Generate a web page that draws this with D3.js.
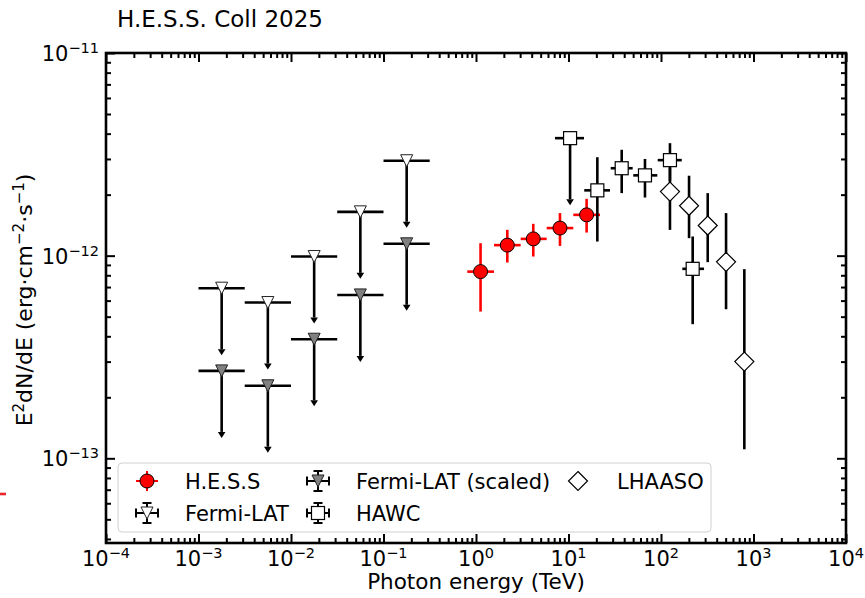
<!DOCTYPE html>
<html>
<head>
<meta charset="utf-8">
<script src="https://cdn.jsdelivr.net/npm/d3@7"></script>
<style>
  body { margin: 0; background: #fff; }
  svg { display: block; }
  text { font-family: "DejaVu Sans", sans-serif; fill: #000; }
</style>
</head>
<body>
<svg id="chart" width="865" height="598"></svg>
<script>
// ---- Data: energies in TeV, fluxes E^2 dN/dE in erg cm^-2 s^-1 ----

// H.E.S.S. spectral points
const hessE   = [1.12, 2.18, 4.16, 8.09, 15.7];
const hessElo = [0.805, 1.565, 3.04, 5.81, 11.27];
const hessEhi = [1.565, 3.04, 5.81, 11.27, 21.9];
const hessF   = [8.34e-13, 1.127e-12, 1.21e-12, 1.368e-12, 1.59e-12];
const hessFlo = [5.30e-13, 9.25e-13, 9.9e-13, 1.117e-12, 1.30e-12];
const hessFhi = [1.152e-12, 1.341e-12, 1.436e-12, 1.622e-12, 1.908e-12];

// Fermi-LAT upper limits (original and scaled)
const fermiE   = [1.78e-3, 5.62e-3, 1.78e-2, 5.62e-2, 0.178];
const fermiElo = [1.0e-3, 3.16e-3, 1.0e-2, 3.16e-2, 0.1];
const fermiEhi = [3.16e-3, 1.0e-2, 3.16e-2, 0.1, 0.316];
const fermiUL       = [6.91e-13, 5.87e-13, 9.9e-13, 1.645e-12, 2.94e-12];
const fermiScaledUL = [2.70e-13, 2.28e-13, 3.87e-13, 6.40e-13, 1.144e-12];

// HAWC points (first bin is an upper limit)
const hawcE   = [10.4, 20.5, 37.6, 67.1, 125, 220];
const hawcElo = [7.14, 14.8, 28.6, 50.1, 92.1, 170];
const hawcEhi = [14.7, 28.1, 49.4, 91.2, 167.6, 292];
const hawcF   = [3.80e-12, 2.10e-12, 2.70e-12, 2.49e-12, 2.96e-12, 8.61e-13];
const hawcFlo = [null, 1.174e-12, 2.035e-12, 1.936e-12, 2.34e-12, 4.59e-13];
const hawcFhi = [null, 3.06e-12, 3.33e-12, 3.0e-12, 3.59e-12, 1.243e-12];
const hawcIsUL = [true, false, false, false, false, false];

// LHAASO points
const lhaasoE   = [125, 201, 320, 505, 796];
const lhaasoF   = [2.07e-12, 1.762e-12, 1.408e-12, 9.32e-13, 3.0e-13];
const lhaasoFlo = [1.34e-12, 1.22e-12, 9.29e-13, 5.44e-13, 1.108e-13];
const lhaasoFhi = [2.72e-12, 2.48e-12, 2.035e-12, 1.622e-12, 8.58e-13];

// Axis tick exponents
const xTickExp = [-4, -3, -2, -1, 0, 1, 2, 3, 4];
const yTickExp = [-13, -12, -11];

// Legend entries (column-major, 3 columns x 2 rows)
const legendLabels = ["H.E.S.S", "Fermi-LAT", "Fermi-LAT (scaled)", "HAWC", "LHAASO"];

// ---- Layout ----
const box = { left: 106, right: 846, top: 53, bottom: 543 };
const UL_FRACTION = 0.5;   // length of upper-limit arrows (fraction of value)

const svg = d3.select("#chart");

const x = d3.scaleLog().domain([1e-4, 1e4]).range([box.left, box.right]);
const y = d3.scaleLog().domain([3.82e-14, 1e-11]).range([box.bottom, box.top]);

// ---- Title ----
svg.append("text")
  .attr("x", 117).attr("y", 27)
  .attr("font-size", 23)
  .text("H.E.S.S. Coll 2025");

// small red mark at the left edge
svg.append("line")
  .attr("x1", 0).attr("x2", 6).attr("y1", 494).attr("y2", 494)
  .attr("stroke", "#e8262b").attr("stroke-width", 2.6);

// ---- Ticks (pointing inward on all four sides) ----
const majorX = xTickExp.map(k => Math.pow(10, k));
const minorX = [];
for (let k = -4; k < 4; k++) for (let m = 2; m <= 9; m++) minorX.push(m * Math.pow(10, k));
const majorY = yTickExp.map(k => Math.pow(10, k));
const minorY = [];
for (let k = -14; k < -11; k++) for (let m = 2; m <= 9; m++) {
  const v = m * Math.pow(10, k);
  if (v >= y.domain()[0] && v <= y.domain()[1]) minorY.push(v);
}

function tickSet(axis, transform) {
  svg.append("g").attr("transform", transform)
    .call(axis.tickFormat(""))
    .call(g => g.select(".domain").remove())
    .call(g => g.selectAll("line").attr("stroke", "#000").attr("stroke-width", 2));
}
tickSet(d3.axisBottom(x).tickValues(majorX).tickSize(-9), `translate(0,${box.bottom})`);
tickSet(d3.axisBottom(x).tickValues(minorX).tickSize(-5), `translate(0,${box.bottom})`);
tickSet(d3.axisTop(x).tickValues(majorX).tickSize(-9), `translate(0,${box.top})`);
tickSet(d3.axisTop(x).tickValues(minorX).tickSize(-5), `translate(0,${box.top})`);
tickSet(d3.axisLeft(y).tickValues(majorY).tickSize(-9), `translate(${box.left},0)`);
tickSet(d3.axisLeft(y).tickValues(minorY).tickSize(-5), `translate(${box.left},0)`);
tickSet(d3.axisRight(y).tickValues(majorY).tickSize(-9), `translate(${box.right},0)`);
tickSet(d3.axisRight(y).tickValues(minorY).tickSize(-5), `translate(${box.right},0)`);

// power-of-ten labels: "10" with a raised exponent
function powLabel(t, exp) {
  t.append("tspan").text("10");
  t.append("tspan").attr("dy", -8).attr("font-size", 14.5)
    .text((exp < 0 ? "\u2212" : "") + Math.abs(exp));
}
svg.append("g").selectAll("text").data(xTickExp).join("text")
  .attr("x", d => x(Math.pow(10, d)))
  .attr("y", 566)
  .attr("text-anchor", "middle")
  .attr("font-size", 21)
  .each(function (d) { powLabel(d3.select(this), d); });

svg.append("g").selectAll("text").data(yTickExp).join("text")
  .attr("x", 99)
  .attr("y", d => y(Math.pow(10, d)) + 8)
  .attr("text-anchor", "end")
  .attr("font-size", 21)
  .each(function (d) { powLabel(d3.select(this), d); });

// ---- Axis titles ----
svg.append("text")
  .attr("x", (box.left + box.right) / 2).attr("y", 589)
  .attr("text-anchor", "middle")
  .attr("font-size", 21.5)
  .text("Photon energy (TeV)");

const yl = svg.append("text")
  .attr("transform", `translate(32,${(box.top + box.bottom) / 2 + 2}) rotate(-90)`)
  .attr("text-anchor", "middle")
  .attr("font-size", 22);
yl.append("tspan").text("E");
yl.append("tspan").attr("dy", -8).attr("font-size", 15).text("2");
yl.append("tspan").attr("dy", 8).text("dN/dE (erg\u00b7cm");
yl.append("tspan").attr("dy", -8).attr("font-size", 15).text("\u22122");
yl.append("tspan").attr("dy", 8).text("\u00b7s");
yl.append("tspan").attr("dy", -8).attr("font-size", 15).text("\u22121");
yl.append("tspan").attr("dy", 8).text(")");

// ---- Marker shapes ----
function triDown(g, fill) {
  return g.append("path").attr("d", "M-6,-6L6,-6L0,6Z")
    .attr("fill", fill).attr("stroke", "#222").attr("stroke-width", 1);
}
function square(g) {
  return g.append("rect").attr("x", -6.5).attr("y", -6.5).attr("width", 13).attr("height", 13)
    .attr("fill", "#fff").attr("stroke", "#000").attr("stroke-width", 1.2);
}
function diamond(g) {
  return g.append("path").attr("d", "M0,-9.5L9.5,0L0,9.5L-9.5,0Z")
    .attr("fill", "#fff").attr("stroke", "#000").attr("stroke-width", 1.2);
}
function dot(g) {
  return g.append("circle").attr("r", 7)
    .attr("fill", "#ff0000").attr("stroke", "#000").attr("stroke-width", 1);
}

const plot = svg.append("g");

// generic error bars
function xBars(g, E, Elo, Ehi, F, color) {
  g.selectAll(null).data(E.map((e, i) => i)).join("line")
    .attr("x1", i => x(Elo[i])).attr("x2", i => x(Ehi[i]))
    .attr("y1", i => y(F[i])).attr("y2", i => y(F[i]))
    .attr("stroke", color).attr("stroke-width", 2.6);
}
function yBars(g, E, Flo, Fhi, color) {
  g.selectAll(null).data(E.map((e, i) => i).filter(i => Flo[i] != null)).join("line")
    .attr("x1", i => x(E[i])).attr("x2", i => x(E[i]))
    .attr("y1", i => y(Flo[i])).attr("y2", i => y(Fhi[i]))
    .attr("stroke", color).attr("stroke-width", 2.6);
}
function ulArrows(g, E, F, idx) {
  idx.forEach(i => {
    const xe = x(E[i]), y0 = y(F[i]), y1 = y(F[i] * UL_FRACTION);
    g.append("line").attr("x1", xe).attr("x2", xe).attr("y1", y0).attr("y2", y1)
      .attr("stroke", "#000").attr("stroke-width", 2.6);
    g.append("path").attr("d", `M${xe - 3.8},${y1}L${xe + 3.8},${y1}L${xe},${y1 + 6}Z`)
      .attr("fill", "#000");
  });
}

// H.E.S.S.
{
  const g = plot.append("g");
  xBars(g, hessE, hessElo, hessEhi, hessF, "#ff0000");
  yBars(g, hessE, hessFlo, hessFhi, "#ff0000");
  hessE.forEach((e, i) => dot(g.append("g").attr("transform", `translate(${x(e)},${y(hessF[i])})`)));
}

// Fermi-LAT
{
  const g = plot.append("g");
  xBars(g, fermiE, fermiElo, fermiEhi, fermiUL, "#000");
  ulArrows(g, fermiE, fermiUL, fermiE.map((e, i) => i));
  fermiE.forEach((e, i) => triDown(g.append("g").attr("transform", `translate(${x(e)},${y(fermiUL[i])})`), "#fff"));
}

// Fermi-LAT scaled
{
  const g = plot.append("g");
  xBars(g, fermiE, fermiElo, fermiEhi, fermiScaledUL, "#000");
  ulArrows(g, fermiE, fermiScaledUL, fermiE.map((e, i) => i));
  fermiE.forEach((e, i) => triDown(g.append("g").attr("transform", `translate(${x(e)},${y(fermiScaledUL[i])})`), "#808080"));
}

// HAWC
{
  const g = plot.append("g");
  xBars(g, hawcE, hawcElo, hawcEhi, hawcF, "#000");
  yBars(g, hawcE, hawcFlo, hawcFhi, "#000");
  ulArrows(g, hawcE, hawcF, hawcE.map((e, i) => i).filter(i => hawcIsUL[i]));
  hawcE.forEach((e, i) => square(g.append("g").attr("transform", `translate(${x(e)},${y(hawcF[i])})`)));
}

// LHAASO
{
  const g = plot.append("g");
  yBars(g, lhaasoE, lhaasoFlo, lhaasoFhi, "#000");
  lhaasoE.forEach((e, i) => diamond(g.append("g").attr("transform", `translate(${x(e)},${y(lhaasoF[i])})`)));
}

// ---- Frame ----
svg.append("rect")
  .attr("x", box.left).attr("y", box.top)
  .attr("width", box.right - box.left).attr("height", box.bottom - box.top)
  .attr("fill", "none").attr("stroke", "#000").attr("stroke-width", 2.6);

// ---- Legend ----
const lg = svg.append("g");
lg.append("rect")
  .attr("x", 118).attr("y", 463).attr("width", 593).attr("height", 69).attr("rx", 4)
  .attr("fill", "#fff").attr("fill-opacity", 0.8)
  .attr("stroke", "#d0d0d0").attr("stroke-width", 1);

const colX = [147, 318, 578], textX = [185, 356, 617], rowY = [481, 513];

function legendBars(g, color, caps) {
  g.append("line").attr("x1", -11).attr("x2", 11).attr("y1", 0).attr("y2", 0)
    .attr("stroke", color).attr("stroke-width", 2);
  g.append("line").attr("x1", 0).attr("x2", 0).attr("y1", -10).attr("y2", 10)
    .attr("stroke", color).attr("stroke-width", 2);
  if (caps) {
    [[-4.5, -10, 4.5, -10], [-4.5, 10, 4.5, 10], [-11, -4.5, -11, 4.5], [11, -4.5, 11, 4.5]]
      .forEach(c => g.append("line").attr("x1", c[0]).attr("y1", c[1]).attr("x2", c[2]).attr("y2", c[3])
        .attr("stroke", color).attr("stroke-width", 2));
  }
}

legendLabels.forEach((label, i) => {
  const col = Math.floor(i / 2), row = i % 2;
  const g = lg.append("g").attr("transform", `translate(${colX[col]},${rowY[row]})`);
  if (label === "H.E.S.S") { legendBars(g, "#ff0000", false); dot(g); }
  else if (label === "Fermi-LAT") { legendBars(g, "#000", true); triDown(g, "#fff"); }
  else if (label === "Fermi-LAT (scaled)") { legendBars(g, "#000", true); triDown(g, "#808080"); }
  else if (label === "HAWC") { legendBars(g, "#000", true); square(g); }
  else { diamond(g); }
  lg.append("text")
    .attr("x", textX[col]).attr("y", rowY[row] + 7.5)
    .attr("font-size", 21)
    .text(label);
});
</script>
</body>
</html>
